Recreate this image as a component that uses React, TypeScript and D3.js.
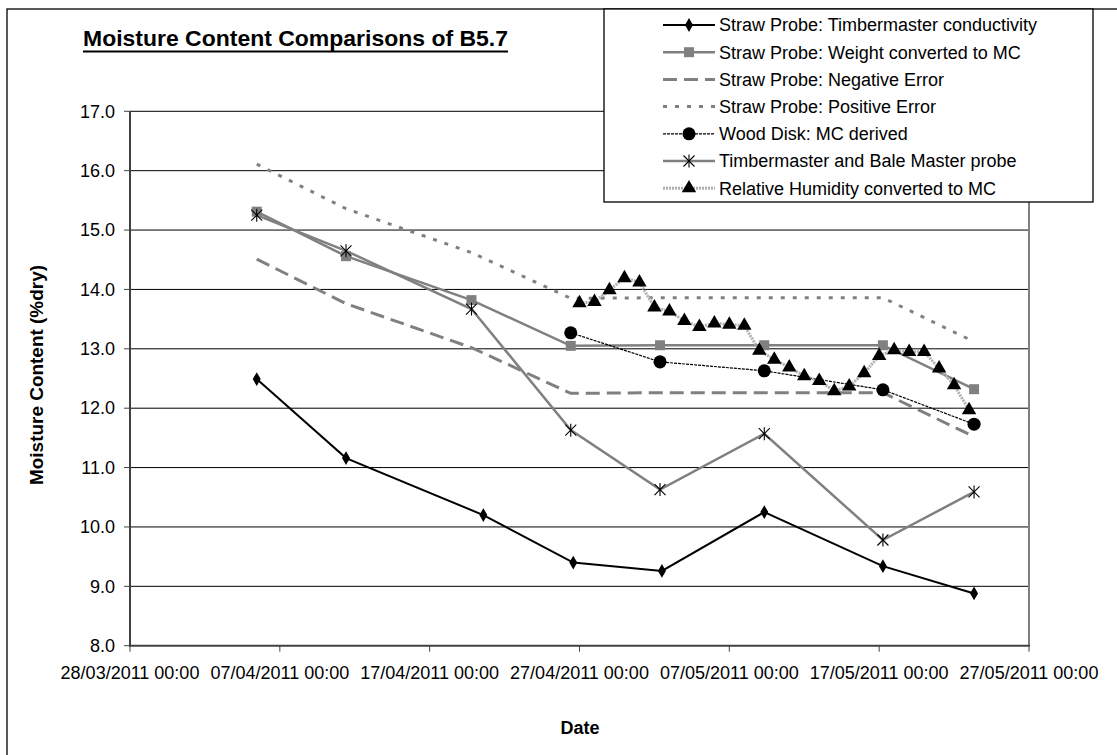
import React from "react";
import * as d3 from "d3";

// ---------- DATA ----------
const sampleDates = [
  "2011-04-05 11:00",
  "2011-04-11 10:00",
  "2011-04-19 19:00",
  "2011-04-26 10:00",
  "2011-05-02 09:00",
  "2011-05-09 08:00",
  "2011-05-17 06:00",
  "2011-05-23 08:00",
];
const conductivityDates = [
  "2011-04-05 11:00",
  "2011-04-11 10:00",
  "2011-04-20 14:00",
  "2011-04-26 14:00",
  "2011-05-02 12:00",
  "2011-05-09 08:00",
  "2011-05-17 06:00",
  "2011-05-23 08:00",
];
const timbermasterConductivity = [12.49, 11.16, 10.2, 9.4, 9.26, 10.25, 9.34, 8.88];
const weightMC = [15.31, 14.56, 13.82, 13.05, 13.06, 13.06, 13.06, 12.32];
const negativeError = [14.51, 13.76, 13.02, 12.25, 12.26, 12.26, 12.26, 11.52];
const positiveError = [16.11, 15.36, 14.62, 13.85, 13.86, 13.86, 13.86, 13.12];
const woodDiskDates = [
  "2011-04-26 10:00",
  "2011-05-02 09:00",
  "2011-05-09 08:00",
  "2011-05-17 06:00",
  "2011-05-23 08:00",
];
const woodDiskMC = [13.27, 12.78, 12.63, 12.31, 11.73];
const baleMasterProbe = [15.25, 14.65, 13.67, 11.63, 10.63, 11.57, 9.78, 10.59];
const rhDates = [
  "2011-04-27 00:00", "2011-04-28 00:00", "2011-04-29 00:00", "2011-04-30 00:00",
  "2011-05-01 00:00", "2011-05-02 00:00", "2011-05-03 00:00", "2011-05-04 00:00",
  "2011-05-05 00:00", "2011-05-06 00:00", "2011-05-07 00:00", "2011-05-08 00:00",
  "2011-05-09 00:00", "2011-05-10 00:00", "2011-05-11 00:00", "2011-05-12 00:00",
  "2011-05-13 00:00", "2011-05-14 00:00", "2011-05-15 00:00", "2011-05-16 00:00",
  "2011-05-17 00:00", "2011-05-18 00:00", "2011-05-19 00:00", "2011-05-20 00:00",
  "2011-05-21 00:00", "2011-05-22 00:00", "2011-05-23 00:00",
];
const rhMC = [
  13.77, 13.79, 13.99, 14.19, 14.12, 13.7, 13.63, 13.47, 13.37, 13.43, 13.41, 13.39,
  12.97, 12.82, 12.69, 12.54, 12.46, 12.29, 12.37, 12.59, 12.88, 12.98, 12.95, 12.95,
  12.67, 12.39, 11.97,
];
const xTickDates = [
  "2011-03-28 00:00", "2011-04-07 00:00", "2011-04-17 00:00", "2011-04-27 00:00",
  "2011-05-07 00:00", "2011-05-17 00:00", "2011-05-27 00:00",
];
const yTicks = [8, 9, 10, 11, 12, 13, 14, 15, 16, 17];
const legendLabels = [
  "Straw Probe: Timbermaster conductivity",
  "Straw Probe: Weight converted to MC",
  "Straw Probe: Negative Error",
  "Straw Probe: Positive Error",
  "Wood Disk: MC derived",
  "Timbermaster and Bale Master probe",
  "Relative Humidity converted to MC",
];

// ---------- LAYOUT ----------
const W = 1117;
const H = 755;
const left = 130;
const right = 1029;
const top = 111.3;
const bottom = 645.7;
const FONT = "'Liberation Sans', Arial, Helvetica, sans-serif";
const GRAY = "#808080";

const parse = d3.timeParse("%Y-%m-%d %H:%M");
const fmt = d3.timeFormat("%d/%m/%Y %H:%M");

const x = d3
  .scaleTime()
  .domain([parse("2011-03-28 00:00") as Date, parse("2011-05-27 00:00") as Date])
  .range([left, right]);
const y = d3.scaleLinear().domain([8, 17]).range([bottom, top]);

type Pt = { d: Date; v: number };
const pts = (dates: string[], vals: number[]): Pt[] =>
  dates.map((s, i) => ({ d: parse(s) as Date, v: vals[i] }));

const line = d3
  .line<Pt>()
  .x((p) => x(p.d))
  .y((p) => y(p.v));

const diamond = d3.symbol().type(d3.symbolDiamond).size(55)() as string;
const square = d3.symbol().type(d3.symbolSquare).size(100)() as string;
const circle = d3.symbol().type(d3.symbolCircle).size(135)() as string;
const triangle = d3.symbol().type(d3.symbolTriangle).size(90)() as string;

function Star({ cx, cy }: { cx: number; cy: number }) {
  return (
    <g transform={`translate(${cx},${cy})`} stroke="#000" strokeWidth={1.1}>
      <line x1={-5.5} y1={-5.5} x2={5.5} y2={5.5} />
      <line x1={-5.5} y1={5.5} x2={5.5} y2={-5.5} />
      <line x1={0} y1={-6.5} x2={0} y2={6.5} />
    </g>
  );
}

const s1 = pts(conductivityDates, timbermasterConductivity);
const s2 = pts(sampleDates, weightMC);
const s3 = pts(sampleDates, negativeError);
const s4 = pts(sampleDates, positiveError);
const s5 = pts(woodDiskDates, woodDiskMC);
const s6 = pts(sampleDates, baleMasterProbe);
const s7 = pts(rhDates, rhMC);

export default function App() {
  const legendX = 604;
  const legendRowY = (i: number) => 25 + i * 27.2;
  return (
    <svg
      width={W}
      height={H}
      style={{ position: "absolute", left: 0, top: 0, background: "#fff" }}
      fontFamily={FONT}
    >
      <rect x={0} y={0} width={W} height={H} fill="#fff" />
      {/* outer frame */}
      <rect x={7} y={9} width={W + 20} height={H + 20} fill="none" stroke="#000" strokeWidth={1.3} />

      {/* title */}
      <text x={83} y={46} fontSize={22} fontWeight="bold" textLength={425} lengthAdjust="spacingAndGlyphs">
        Moisture Content Comparisons of B5.7
      </text>
      <line x1={83} x2={508} y1={51.5} y2={51.5} stroke="#000" strokeWidth={2} />

      {/* gridlines */}
      {yTicks
        .filter((t) => t > 8)
        .map((t) => (
          <line key={t} x1={left} x2={right} y1={y(t)} y2={y(t)} stroke="#000" strokeWidth={1} />
        ))}
      {/* right border of plot */}
      <line x1={right} x2={right} y1={top} y2={bottom} stroke={GRAY} strokeWidth={2} />

      {/* y axis */}
      <line x1={left} x2={left} y1={top} y2={bottom + 1} stroke="#404040" strokeWidth={2} />
      {yTicks.map((t) => (
        <g key={t}>
          <line x1={left - 6} x2={left} y1={y(t)} y2={y(t)} stroke="#404040" strokeWidth={1} />
          <text x={115} y={y(t)} dy="0.35em" textAnchor="end" fontSize={18} fill="#000">
            {t.toFixed(1)}
          </text>
        </g>
      ))}
      {/* x axis */}
      <line x1={left - 1} x2={right + 1} y1={bottom} y2={bottom} stroke="#404040" strokeWidth={2} />
      {xTickDates.map((s) => {
        const d = parse(s) as Date;
        return (
          <g key={s}>
            <line x1={x(d)} x2={x(d)} y1={bottom} y2={bottom + 6} stroke="#404040" strokeWidth={1} />
            <text x={x(d)} y={679} textAnchor="middle" fontSize={18} fill="#000">
              {fmt(d)}
            </text>
          </g>
        );
      })}

      {/* axis titles */}
      <text
        transform={`translate(43,375) rotate(-90)`}
        textAnchor="middle"
        fontSize={18.5}
        fontWeight="bold"
        textLength={220}
        lengthAdjust="spacingAndGlyphs"
      >
        Moisture Content (%dry)
      </text>
      <text x={580} y={734} textAnchor="middle" fontSize={18} fontWeight="bold">
        Date
      </text>

      {/* series 1 */}
      <path d={line(s1) as string} fill="none" stroke="#000" strokeWidth={2} />
      {s1.map((p, i) => (
        <path key={i} d={diamond} transform={`translate(${x(p.d)},${y(p.v)})`} fill="#000" />
      ))}
      {/* series 2 */}
      <path d={line(s2) as string} fill="none" stroke={GRAY} strokeWidth={2.5} />
      {s2.map((p, i) => (
        <path key={i} d={square} transform={`translate(${x(p.d)},${y(p.v)})`} fill={GRAY} />
      ))}
      {/* series 3 negative error */}
      <path d={line(s3) as string} fill="none" stroke={GRAY} strokeWidth={3} strokeDasharray="14,7" />
      {/* series 4 positive error */}
      <path d={line(s4) as string} fill="none" stroke={GRAY} strokeWidth={3} strokeDasharray="4,8" />
      {/* series 5 wood disk */}
      <path d={line(s5) as string} fill="none" stroke="#000" strokeWidth={1.2} strokeDasharray="3,1" />
      {s5.map((p, i) => (
        <path key={i} d={circle} transform={`translate(${x(p.d)},${y(p.v)})`} fill="#000" />
      ))}
      {/* series 6 timbermaster and bale master */}
      <path d={line(s6) as string} fill="none" stroke={GRAY} strokeWidth={2.5} />
      {s6.map((p, i) => (
        <Star key={i} cx={x(p.d)} cy={y(p.v)} />
      ))}
      {/* series 7 RH */}
      <path d={line(s7) as string} fill="none" stroke="#b0b0b0" strokeWidth={3} strokeDasharray="2,1" />
      {s7.map((p, i) => (
        <path key={i} d={triangle} transform={`translate(${x(p.d)},${y(p.v)})`} fill="#000" />
      ))}

      {/* legend */}
      <rect x={legendX} y={9} width={1093 - legendX} height={202 - 9} fill="#fff" stroke="#000" strokeWidth={1.3} />
      {legendLabels.map((lab, i) => {
        const cy = legendRowY(i);
        const x1 = 663;
        const x2 = 715;
        const mx = 689;
        let sym: React.ReactNode = null;
        let ln: React.ReactNode = null;
        if (i === 0) {
          ln = <line x1={x1} x2={x2} y1={cy} y2={cy} stroke="#000" strokeWidth={2} />;
          sym = <path d={diamond} transform={`translate(${mx},${cy})`} fill="#000" />;
        } else if (i === 1) {
          ln = <line x1={x1} x2={x2} y1={cy} y2={cy} stroke={GRAY} strokeWidth={2.5} />;
          sym = <path d={square} transform={`translate(${mx},${cy})`} fill={GRAY} />;
        } else if (i === 2) {
          ln = <line x1={x1} x2={x2} y1={cy} y2={cy} stroke={GRAY} strokeWidth={3} strokeDasharray="14,7" />;
        } else if (i === 3) {
          ln = <line x1={x1} x2={x2} y1={cy} y2={cy} stroke={GRAY} strokeWidth={3} strokeDasharray="4,8" />;
        } else if (i === 4) {
          ln = <line x1={x1} x2={x2} y1={cy} y2={cy} stroke="#000" strokeWidth={1.2} strokeDasharray="3,1" />;
          sym = <path d={circle} transform={`translate(${mx},${cy})`} fill="#000" />;
        } else if (i === 5) {
          ln = <line x1={x1} x2={x2} y1={cy} y2={cy} stroke={GRAY} strokeWidth={2.5} />;
          sym = <Star cx={mx} cy={cy} />;
        } else {
          ln = <line x1={x1} x2={x2} y1={cy} y2={cy} stroke="#b0b0b0" strokeWidth={3} strokeDasharray="2,1" />;
          sym = <path d={triangle} transform={`translate(${mx},${cy})`} fill="#000" />;
        }
        return (
          <g key={lab}>
            {ln}
            {sym}
            <text x={719} y={cy} dy="0.35em" fontSize={18} fill="#000">
              {lab}
            </text>
          </g>
        );
      })}
    </svg>
  );
}
